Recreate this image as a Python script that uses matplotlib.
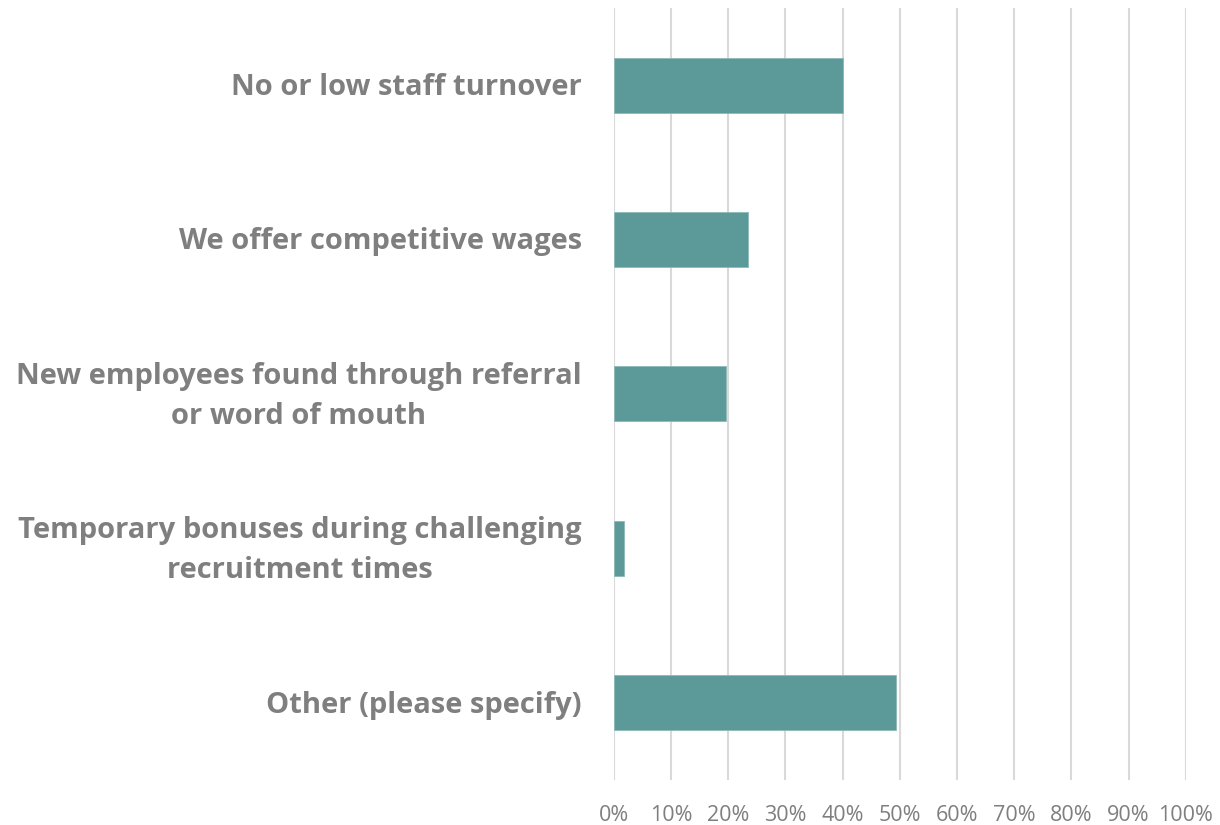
import numpy as np
import matplotlib.pyplot as plt
import matplotlib.transforms as mtransforms
from matplotlib.ticker import PercentFormatter

categories = [
    "No or low staff turnover",
    "We offer competitive wages",
    "New employees found through referral\nor word of mouth",
    "Temporary bonuses during challenging\nrecruitment times",
    "Other (please specify)",
]
values = [40.0, 23.4, 19.6, 1.8, 49.4]
xticks = list(range(0, 101, 10))

bar_color = '#5B9A98'
text_color = '#7F7F7F'
grid_color = '#D9D9D9'

plt.rcParams['font.family'] = ['Open Sans', 'DejaVu Sans']

fig = plt.figure(figsize=(12.2, 8.25), dpi=100)
ax = fig.add_axes([0.503, 0.0545, 0.469, 0.936])

y = np.arange(len(categories))
ax.barh(y, values, height=0.356, color=bar_color, edgecolor='#8DBAB8',
        linewidth=0.6, zorder=3)

ax.set_ylim(len(categories) - 0.5, -0.5)
ax.set_xlim(0, 100)
ax.set_xticks(xticks)
ax.xaxis.set_major_formatter(PercentFormatter(decimals=0))
ax.set_yticks(y)
ax.set_yticklabels(categories, fontsize=21, fontweight='bold',
                   color=text_color, multialignment='center', linespacing=1.5,
                   va='center')

ax.tick_params(axis='x', length=0, labelsize=15.5, labelcolor=text_color, pad=18)
ax.tick_params(axis='y', length=0, pad=23)
ax.grid(axis='x', color=grid_color, linewidth=1.5, zorder=0)
for s in ax.spines.values():
    s.set_visible(False)

# nudge the category labels down a touch
shift = mtransforms.ScaledTranslation(0, -2.5 / 100, fig.dpi_scale_trans)
for lbl in ax.get_yticklabels():
    lbl.set_transform(lbl.get_transform() + shift)

fig.savefig('out.png', dpi=100)
